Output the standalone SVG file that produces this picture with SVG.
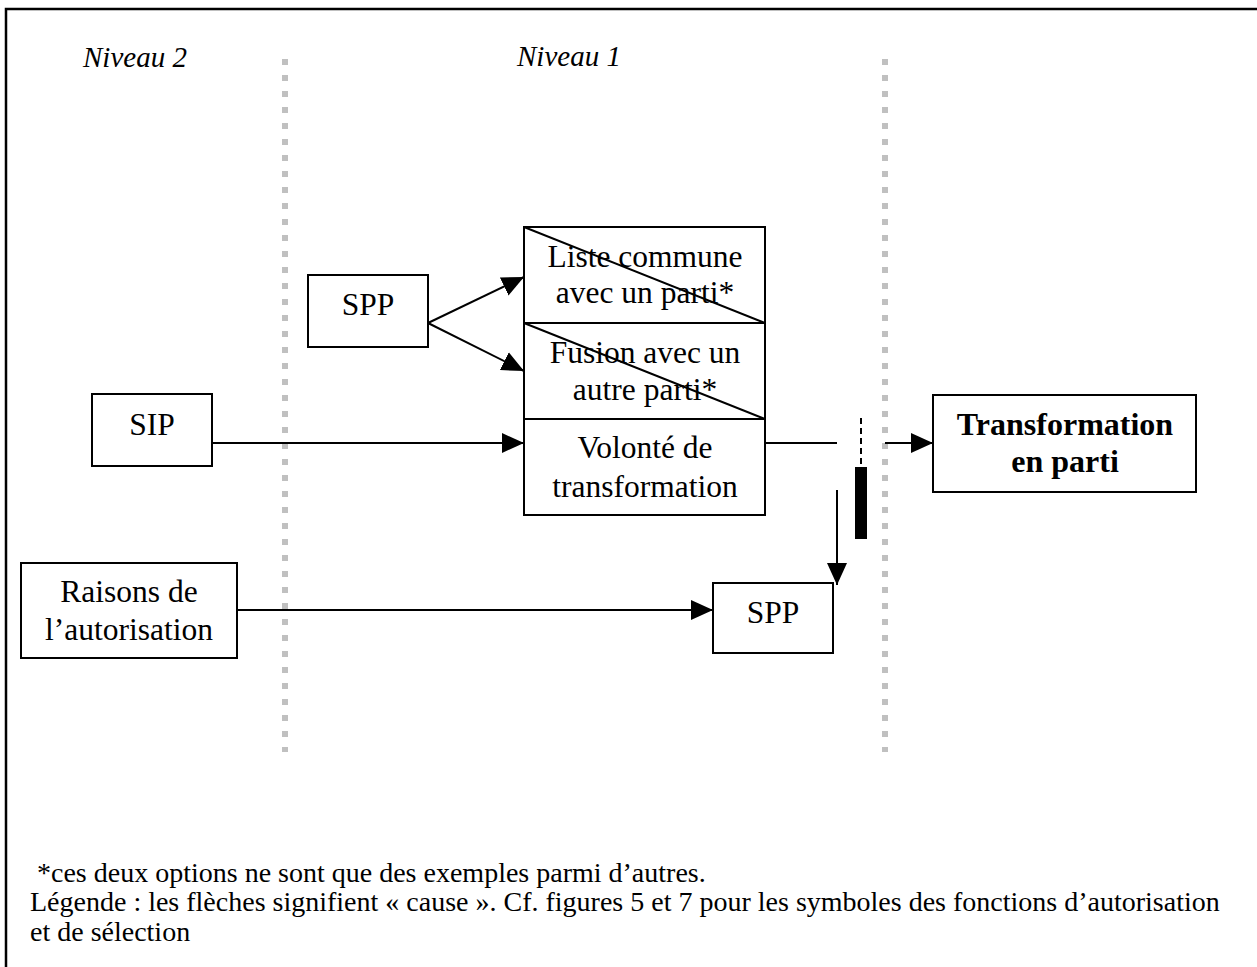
<svg xmlns="http://www.w3.org/2000/svg" width="1257" height="967" viewBox="0 0 1257 967">
<style>
text{font-family:"Liberation Serif","Times New Roman",serif;fill:#000}
.t{font-size:31.5px;text-anchor:middle}
.b{font-size:32px;font-weight:bold;text-anchor:middle}
.lvl{font-size:29px;font-style:italic}
.foot{font-size:28px}
.box{fill:#fff;stroke:#000;stroke-width:2}
.ln{fill:none;stroke:#000;stroke-width:2}
.dot{fill:none;stroke:#c0c0c0;stroke-width:6;stroke-dasharray:6 10}
</style>
<defs>
<marker id="ah" markerUnits="userSpaceOnUse" markerWidth="22" markerHeight="22" viewBox="0 0 22 22" refX="22" refY="11" orient="auto">
<path d="M0,1 L22,11 L0,21 Z" fill="#000"/>
</marker>
</defs>
<rect x="0" y="0" width="1257" height="967" fill="#fff"/>
<path d="M6,967 V9 H1257" fill="none" stroke="#000" stroke-width="2.5"/>
<g id="separators">
<line class="dot" x1="285" y1="59" x2="285" y2="752"/>
<line class="dot" x1="885" y1="59" x2="885" y2="752"/>
</g>
<g id="levels">
<text class="lvl" x="83" y="67">Niveau 2</text>
<text class="lvl" x="517" y="66">Niveau 1</text>
</g>
<g id="connectors">
<line class="ln" x1="428" y1="323" x2="524" y2="277" marker-end="url(#ah)"/>
<line class="ln" x1="428" y1="323" x2="524" y2="371" marker-end="url(#ah)"/>
<line class="ln" x1="212" y1="443" x2="524" y2="443" marker-end="url(#ah)"/>
<line class="ln" x1="237" y1="610" x2="713" y2="610" marker-end="url(#ah)"/>
<line class="ln" x1="765" y1="443" x2="837" y2="443"/>
<line class="ln" x1="837" y1="490" x2="837" y2="585" marker-end="url(#ah)"/>
<line class="ln" x1="885" y1="443" x2="933" y2="443" marker-end="url(#ah)"/>
</g>
<g id="selection">
<line x1="861" y1="418" x2="861" y2="467" stroke="#000" stroke-width="2" stroke-dasharray="6 4"/>
<rect x="855" y="467" width="12" height="72" fill="#000"/>
</g>
<g id="spp-top">
<rect class="box" x="308" y="275" width="120" height="72"/>
<text class="t" x="368" y="315">SPP</text>
</g>
<g id="liste">
<rect class="box" x="524" y="227" width="241" height="96"/>
<text class="t" x="645" y="267">Liste commune</text>
<text class="t" x="645" y="303">avec un parti*</text>
<line class="ln" x1="524" y1="227" x2="765" y2="323"/>
</g>
<g id="fusion">
<rect class="box" x="524" y="323" width="241" height="96"/>
<text class="t" x="645" y="363">Fusion avec un</text>
<text class="t" x="645" y="400">autre parti*</text>
<line class="ln" x1="524" y1="323" x2="765" y2="419"/>
</g>
<g id="volonte">
<rect class="box" x="524" y="419" width="241" height="96"/>
<text class="t" x="645" y="458">Volonté de</text>
<text class="t" x="645" y="497">transformation</text>
</g>
<g id="sip">
<rect class="box" x="92" y="394" width="120" height="72"/>
<text class="t" x="152" y="435">SIP</text>
</g>
<g id="raisons">
<rect class="box" x="21" y="563" width="216" height="95"/>
<text class="t" x="129" y="602">Raisons de</text>
<text class="t" x="129" y="640">l’autorisation</text>
</g>
<g id="spp-bottom">
<rect class="box" x="713" y="583" width="120" height="70"/>
<text class="t" x="773" y="623">SPP</text>
</g>
<g id="transformation">
<rect class="box" x="933" y="395" width="263" height="97"/>
<text class="b" x="1065" y="435">Transformation</text>
<text class="b" x="1065" y="472">en parti</text>
</g>
<g id="footer">
<text class="foot" x="37" y="882">*ces deux options ne sont que des exemples parmi d’autres.</text>
<text class="foot" x="30" y="911">Légende : les flèches signifient « cause ». Cf. figures 5 et 7 pour les symboles des fonctions d’autorisation</text>
<text class="foot" x="30" y="941">et de sélection</text>
</g>
</svg>
